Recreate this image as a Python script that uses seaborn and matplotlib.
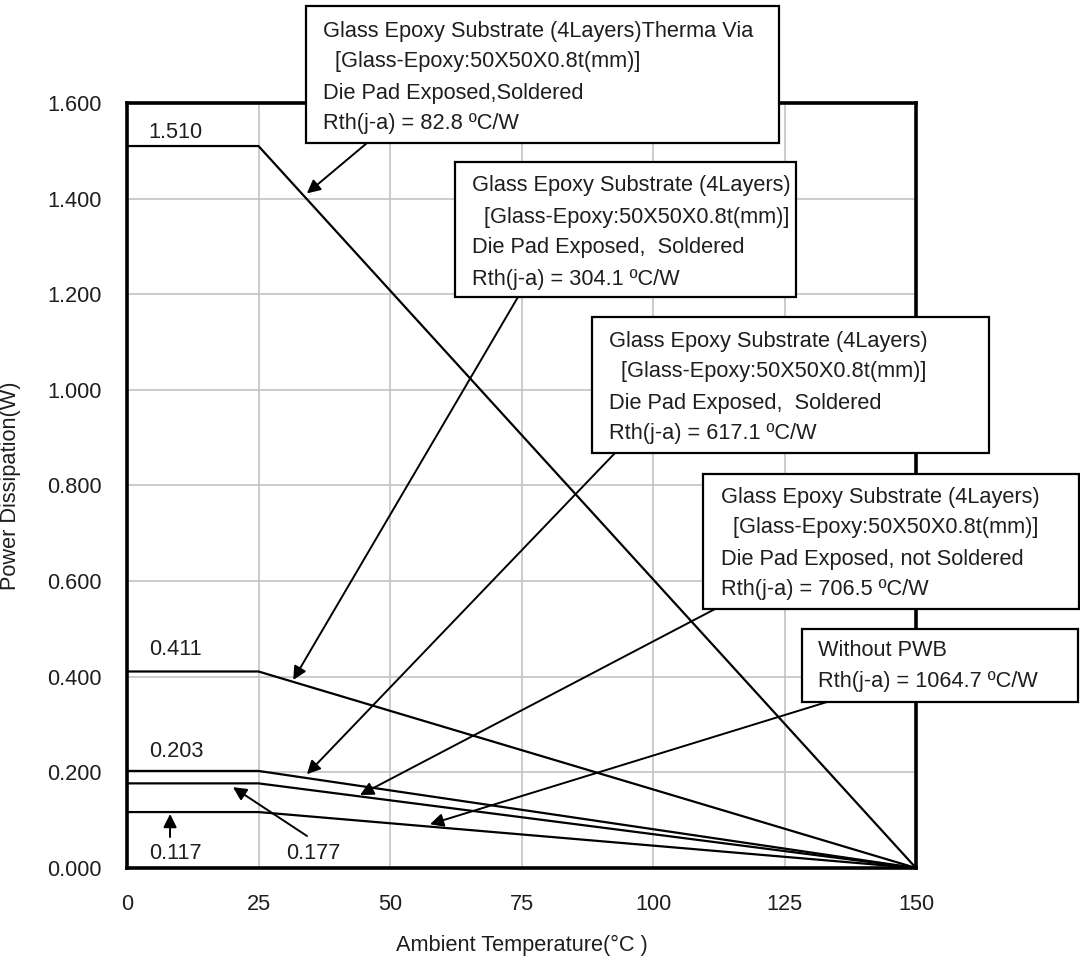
import matplotlib
matplotlib.use("Agg")
import matplotlib.pyplot as plt
import numpy as np
import pandas as pd
import seaborn as sns
from matplotlib.patches import Rectangle

# ---------------- data ----------------
temps = [0, 25, 150]
p_via_828 = [1.510, 1.510, 0.0]
p_sold_3041 = [0.411, 0.411, 0.0]
p_sold_6171 = [0.203, 0.203, 0.0]
p_nsold_7065 = [0.177, 0.177, 0.0]
p_nopwb_10647 = [0.117, 0.117, 0.0]
series_names = ["Therma Via 82.8", "Soldered 304.1", "Soldered 617.1",
                "not Soldered 706.5", "Without PWB 1064.7"]
series_vals = [p_via_828, p_sold_3041, p_sold_6171, p_nsold_7065, p_nopwb_10647]
value_labels = ["1.510", "0.411", "0.203", "0.177", "0.117"]
x_ticks = [0, 25, 50, 75, 100, 125, 150]
y_ticks = [0.0, 0.2, 0.4, 0.6, 0.8, 1.0, 1.2, 1.4, 1.6]

box_texts = [
    ["Glass Epoxy Substrate (4Layers)Therma Via", "  [Glass-Epoxy:50X50X0.8t(mm)]",
     "Die Pad Exposed,Soldered", "Rth(j-a) = 82.8 ºC/W"],
    ["Glass Epoxy Substrate (4Layers)", "  [Glass-Epoxy:50X50X0.8t(mm)]",
     "Die Pad Exposed,  Soldered", "Rth(j-a) = 304.1 ºC/W"],
    ["Glass Epoxy Substrate (4Layers)", "  [Glass-Epoxy:50X50X0.8t(mm)]",
     "Die Pad Exposed,  Soldered", "Rth(j-a) = 617.1 ºC/W"],
    ["Glass Epoxy Substrate (4Layers)", "  [Glass-Epoxy:50X50X0.8t(mm)]",
     "Die Pad Exposed, not Soldered", "Rth(j-a) = 706.5 ºC/W"],
    ["Without PWB", "Rth(j-a) = 1064.7 ºC/W"],
]

rows = []
for name, vals in zip(series_names, series_vals):
    for t, v in zip(temps, vals):
        rows.append({"Ta": t, "Pd": v, "series": name})
df = pd.DataFrame(rows)

# ---------------- figure ----------------
sns.set_theme(style="white")
plt.rcParams["font.family"] = ["Liberation Sans", "DejaVu Sans"]
FS = 15.7
TXT = "#1e1e1e"

W, H = 1080, 967
fig = plt.figure(figsize=(W / 100, H / 100), dpi=100)
ax = fig.add_axes([127 / W, (H - 868) / H, 789 / W, 765 / H])

sns.lineplot(data=df, x="Ta", y="Pd", hue="series", palette=["black"] * 5,
             legend=False, linewidth=1.6, ax=ax, zorder=3)

ax.set_xlim(0, 150)
ax.set_ylim(0, 1.6)
ax.set_xticks(x_ticks)
ax.set_yticks(y_ticks)
ax.set_xticklabels([str(t) for t in x_ticks], fontsize=FS)
ax.set_yticklabels([f"{v:.3f}" for v in y_ticks], fontsize=FS)
ax.tick_params(axis="x", length=0, pad=19, colors=TXT)
ax.tick_params(axis="y", length=0, pad=18, colors=TXT)
ax.grid(True, color="#c4c4c4", linewidth=1.2, zorder=0)
ax.set_axisbelow(True)
for s in ax.spines.values():
    s.set_visible(True)
    s.set_color("black")
    s.set_linewidth(2.6)

ax.set_xlabel("Ambient Temperature(°C )", fontsize=FS, color=TXT)
ax.set_ylabel("Power Dissipation(W)", fontsize=FS, color=TXT)
ax.xaxis.set_label_coords(0.5, -0.088)
ax.yaxis.set_label_coords(-0.134, 0.5)


def px2fig(x, y):
    return x / W, (H - y) / H


def derate(vals, x):
    return float(np.interp(x, temps, vals))


# value labels
lab_x = 9.3
for lbl, vals, off in zip(value_labels[:3], series_vals[:3], [10, 15.5, 14]):
    ax.annotate(lbl, xy=(lab_x, vals[0]), xytext=(0, off), textcoords="offset points",
                ha="center", va="center", fontsize=FS, color=TXT)
ax.annotate(value_labels[4], xy=(lab_x, p_nopwb_10647[0]), xytext=(0, -30),
            textcoords="offset points", ha="center", va="center", fontsize=FS,
            color=TXT)
ax.annotate(value_labels[3], xy=(35.4, p_nopwb_10647[0]), xytext=(0, -30),
            textcoords="offset points", ha="center", va="center", fontsize=FS,
            color=TXT)

# boxes (figure pixels: left, top, right, bottom, text_left, first_line_y)
boxes = [
    (306, 6, 779, 143, 323, 31),
    (455, 162, 796, 297, 472, 186),
    (592, 317, 989, 453, 609, 341),
    (703, 474, 1079, 609, 721, 497),
    (802, 629, 1078, 702, 818, 651),
]
line_step = 31
for (l, t, r, b, tx, ty), lines in zip(boxes, box_texts):
    x0, y0 = px2fig(l, b)
    rect = Rectangle((x0, y0), (r - l) / W, (b - t) / H, transform=fig.transFigure,
                     facecolor="white", edgecolor="black", linewidth=1.6, zorder=10)
    fig.add_artist(rect)
    for i, line in enumerate(lines):
        fx, fy = px2fig(tx, ty + i * line_step)
        fig.text(fx, fy, line, ha="left", va="center", fontsize=FS,
                 color=TXT, zorder=11)

# arrows: (tail px, head x data, series, dy)
arrows = [
    ((367, 143), 34.2, p_via_828, 0.012),
    ((518, 297), 31.6, p_sold_3041, 0.004),
    ((615, 453), 34.2, p_sold_6171, 0.008),
    ((715, 609), 44.3, p_nsold_7065, 0.003),
    ((827, 702), 57.6, p_nopwb_10647, 0.005),
    ((307, 836), 20.15, p_nsold_7065, -0.008),
    ((170, 837), 8.2, p_nopwb_10647, -0.004),
]
for (tx, ty), hx, vals, dy in arrows:
    ax.annotate("", xy=(hx, derate(vals, hx) + dy), xycoords="data",
                xytext=px2fig(tx, ty), textcoords="figure fraction",
                arrowprops=dict(arrowstyle="-|>", color="black", lw=1.4,
                                mutation_scale=20, shrinkA=0, shrinkB=0),
                annotation_clip=False, zorder=9)

fig.savefig("out.png", dpi=100)
